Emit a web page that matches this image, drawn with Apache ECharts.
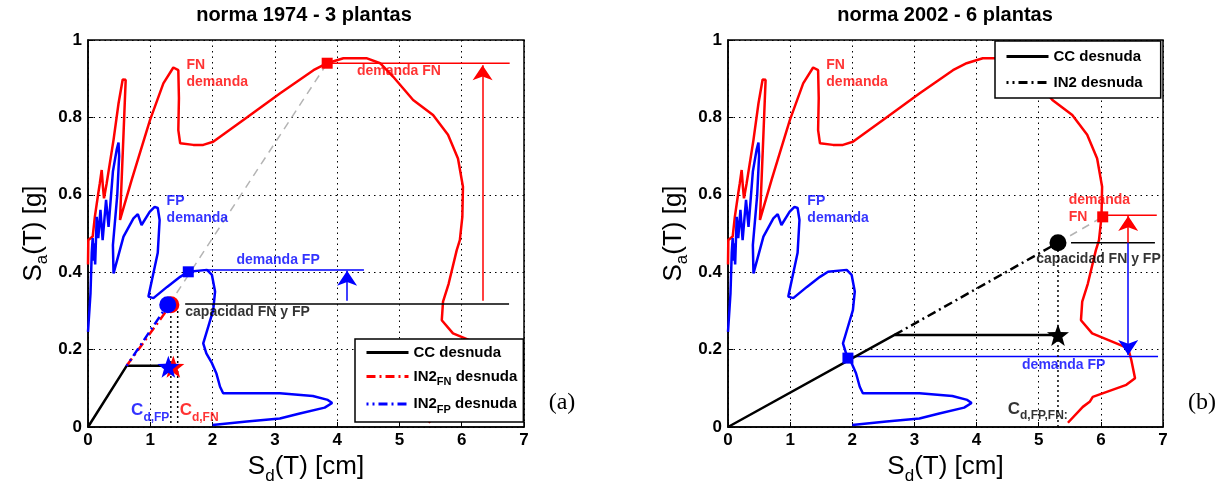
<!DOCTYPE html>
<html><head><meta charset="utf-8">
<script src="https://cdn.jsdelivr.net/npm/echarts@6/dist/echarts.min.js"></script>
<style>html,body{margin:0;padding:0;background:#fff}#c{width:1225px;height:491px}</style>
</head><body><div id="c"></div><script>
// ---------- data ----------
const xTicks = [0, 1, 2, 3, 4, 5, 6, 7];
const yTicks = [0, 0.2, 0.4, 0.6, 0.8, 1];
const titles = ['norma 1974 - 3 plantas', 'norma 2002 - 6 plantas'];
const panelTags = ['(a)', '(b)'];

// demand spectra (same in both panels)
const fnDemand = [[0,0.42],[0.005,0.483],[0.075,0.492],[0.11,0.543],[0.165,0.604],[0.19,0.63],[0.22,0.664],[0.24,0.62],[0.257,0.591],[0.30,0.63],[0.41,0.742],[0.49,0.836],[0.557,0.898],[0.605,0.897],[0.571,0.76],[0.514,0.535],[0.70,0.638],[0.995,0.793],[1.21,0.888],[1.37,0.929],[1.45,0.922],[1.46,0.85],[1.45,0.767],[1.48,0.733],[1.69,0.729],[1.85,0.729],[2.01,0.737],[2.55,0.80],[3.08,0.862],[3.62,0.922],[3.84,0.94],[4.10,0.953],[4.47,0.953],[4.69,0.94],[4.90,0.905],[5.22,0.845],[5.54,0.806],[5.78,0.755],[5.94,0.694],[6.02,0.621],[6.01,0.543],[5.97,0.483],[5.92,0.457],[5.79,0.37],[5.70,0.324],[5.68,0.276],[5.86,0.242],[6.25,0.216],[6.44,0.203],[6.49,0.173],[6.55,0.126],[6.41,0.109],[5.87,0.078],[5.82,0.065],[5.71,0.052],[5.47,0.011]];
const fpDemand = [[0,0.246],[0.04,0.345],[0.06,0.45],[0.075,0.488],[0.09,0.43],[0.10,0.475],[0.115,0.42],[0.14,0.543],[0.165,0.488],[0.20,0.561],[0.235,0.483],[0.29,0.587],[0.33,0.517],[0.40,0.66],[0.46,0.716],[0.49,0.735],[0.50,0.70],[0.47,0.60],[0.40,0.47],[0.41,0.397],[0.57,0.492],[0.73,0.539],[0.80,0.55],[0.86,0.522],[0.99,0.556],[1.07,0.569],[1.12,0.566],[1.15,0.535],[1.12,0.45],[0.97,0.337],[1.05,0.333],[1.27,0.362],[1.48,0.388],[1.61,0.401],[1.91,0.406],[1.99,0.393],[2.04,0.350],[2.01,0.302],[1.93,0.259],[1.85,0.216],[1.90,0.190],[1.99,0.165],[2.06,0.139],[2.12,0.104],[2.17,0.087],[2.55,0.087],[3.08,0.087],[3.61,0.08],[3.85,0.07],[3.92,0.062],[3.80,0.050],[3.40,0.035],[3.08,0.022],[2.55,0.014],[2.0,0.005]];

// panel (a)
const aCC = [[0,0],[0.62,0.158],[1.34,0.158]];
const aIN2fn = [[0.62,0.158],[1.33,0.316]];
const aIN2fp = [[0.62,0.158],[1.28,0.316]];
const aPeriod = [[1.30,0.316],[3.84,0.94]];
const aCapacity = [[1.56,0.318],[6.76,0.318]];
const aDemFP = [[1.90,0.406],[4.43,0.406]];
const aDemFN = [[3.84,0.94],[6.77,0.94]];
const aArrowFP = [[4.16,0.326],[4.16,0.404]];
const aArrowFN = [[6.335,0.326],[6.335,0.935]];
const aDotFP = [[1.33,0.30],[1.33,0]];
const aDotFN = [[1.44,0.30],[1.44,0]];
const aSquareFN = [3.84,0.94], aSquareFP = [1.61,0.401];
const aCircleFN = [1.33,0.316], aCircleFP = [1.28,0.316];
const aStarFN = [1.37,0.156], aStarFP = [1.29,0.156];

// panel (b)
const bCC = [[0,0],[2.68,0.238],[5.31,0.238]];
const bIN2 = [[2.68,0.238],[5.31,0.476]];
const bPeriod = [[5.31,0.476],[6.03,0.543]];
const bCapacity = [[5.52,0.476],[6.87,0.476]];
const bDemFN = [[6.03,0.547],[6.90,0.547]];
const bDemFP = [[1.93,0.182],[6.92,0.182]];
const bArrowFN = [[6.44,0.476],[6.44,0.545]];
const bArrowFP = [[6.44,0.476],[6.44,0.186]];
const bDot = [[5.31,0.47],[5.31,0]];
const bSquareFN = [6.03,0.543], bSquareFP = [1.93,0.178];
const bCircle = [5.31,0.476], bStar = [5.31,0.238];

// ---------- styling helpers ----------
const FONT = 'Liberation Sans, Arial, sans-serif';
const RED = '#ff0000', BLUE = '#0000ff', BLACK = '#000000', GRAY = '#b4b4b4';
const DASHDOT = [9, 4, 2, 4];
const STAR = 'path://M0,-10 L2.35,-3.24 L9.51,-3.09 L3.8,1.24 L5.88,8.09 L0,4 L-5.88,8.09 L-3.8,1.24 L-9.51,-3.09 L-2.35,-3.24 Z';

function line(g, name, data, color, width, type, z, extra) {
  return Object.assign({
    type: 'line', name: name, xAxisIndex: g, yAxisIndex: g, data: data,
    symbol: 'none', showSymbol: false, silent: true, z: z || 2, animation: false,
    lineStyle: {color: color, width: width, type: type || 'solid'},
    itemStyle: {color: color}
  }, extra || {});
}
function marker(g, pt, color, symbol, size, z) {
  return {type: 'scatter', xAxisIndex: g, yAxisIndex: g, data: [pt], symbol: symbol,
    symbolSize: size, itemStyle: {color: color, opacity: 1}, z: z || 6, silent: true, animation: false};
}
function arrow(g, seg, color) {
  return {type: 'lines', coordinateSystem: 'cartesian2d', xAxisIndex: g, yAxisIndex: g,
    data: [{coords: seg}], symbol: ['none', 'arrow'], symbolSize: [11, 15], z: 4, silent: true, animation: false,
    lineStyle: {color: color, width: 1.5, opacity: 1, curveness: 0}};
}
const rich = (c) => ({
  t: {fontSize: 14, fontWeight: 'bold', color: c, fontFamily: FONT, lineHeight: 17},
  C: {fontSize: 17, fontWeight: 'bold', color: c, fontFamily: FONT},
  s: {fontSize: 12, fontWeight: 'bold', color: c, fontFamily: FONT, padding: [14, 0, 0, 0]}
});
function txt(x, y, fmt, color, align, valign) {
  return {value: [x, y], label: {show: true, formatter: fmt, position: [0, 0], align: align,
    verticalAlign: valign, color: color, rich: rich(color)}};
}
function textSeries(g, items) {
  return {type: 'scatter', xAxisIndex: g, yAxisIndex: g, data: items, symbol: 'circle', symbolSize: 1,
    itemStyle: {color: 'transparent'}, z: 7, silent: true, animation: false};
}

const axisNameRich = {
  m: {fontSize: 26, fontFamily: FONT, color: BLACK},
  d: {fontSize: 17, fontFamily: FONT, color: BLACK, padding: [18, 0, 0, 0]}
};
function xAx(g) {
  return {type: 'value', gridIndex: g, min: xTicks[0], max: xTicks[xTicks.length - 1], interval: 1,
    name: '{m|S}{d|d}{m|(T) [cm]}', nameLocation: 'middle', nameGap: 22,
    nameTextStyle: {rich: axisNameRich},
    axisLine: {show: true, lineStyle: {color: BLACK, width: 1.5}},
    axisTick: {show: true, inside: true, length: 5, lineStyle: {color: BLACK}},
    axisLabel: {fontSize: 17, fontWeight: 'bold', color: BLACK, fontFamily: FONT, margin: 5},
    splitLine: {show: true, lineStyle: {color: BLACK, width: 1, type: [1.5, 4]}}};
}
function yAx(g) {
  return {type: 'value', gridIndex: g, min: yTicks[0], max: yTicks[yTicks.length - 1], interval: 0.2,
    name: '{m|S}{d|a}{m|(T) [g]}', nameLocation: 'middle', nameGap: 37,
    nameTextStyle: {rich: axisNameRich},
    axisLine: {show: true, lineStyle: {color: BLACK, width: 1.5}},
    axisTick: {show: true, inside: true, length: 5, lineStyle: {color: BLACK}},
    axisLabel: {fontSize: 17, fontWeight: 'bold', color: BLACK, fontFamily: FONT, margin: 6},
    splitLine: {show: true, lineStyle: {color: BLACK, width: 1, type: [1.5, 4]}}};
}

const legendRich = {
  t: {fontSize: 15, fontWeight: 'bold', fontFamily: FONT, color: BLACK},
  s: {fontSize: 11, fontWeight: 'bold', fontFamily: FONT, color: BLACK, padding: [11, 0, 0, 0]}
};
function legendFmt(name) {
  if (name === 'IN2_FN desnuda') return '{t|IN2}{s|FN}{t| desnuda}';
  if (name === 'IN2_FP desnuda') return '{t|IN2}{s|FP}{t| desnuda}';
  return '{t|' + name + '}';
}
const legendCommon = {
  orient: 'vertical', itemWidth: 42, itemHeight: 12,
  backgroundColor: '#ffffff', borderColor: BLACK, borderWidth: 1.5, borderRadius: 0,
  formatter: legendFmt, itemStyle: {color: 'transparent', opacity: 0, borderWidth: 0},
  lineStyle: {width: 3},
  textStyle: {rich: legendRich, fontSize: 15, fontWeight: 'bold', color: BLACK, fontFamily: FONT},
  selectedMode: false, z: 20
};

const series = [
  // panel a
  line(0, 'FN demanda', fnDemand, RED, 2.5),
  line(0, 'FP demanda', fpDemand, BLUE, 2.5),
  line(0, 'period a', aPeriod, GRAY, 1.5, [8, 6]),
  line(0, 'cap a', aCapacity, BLACK, 1.5),
  line(0, 'demFP a', aDemFP, BLUE, 1.5),
  line(0, 'demFN a', aDemFN, RED, 1.5),
  line(0, 'dotFP a', aDotFP, BLACK, 1.5, [2, 3]),
  line(0, 'dotFN a', aDotFN, BLACK, 1.5, [2, 3]),
  line(0, 'CC desnuda', aCC, BLACK, 2.5, 'solid', 3),
  line(0, 'IN2_FN desnuda', aIN2fn, RED, 2.5, DASHDOT, 3),
  line(0, 'IN2_FP desnuda', aIN2fp, BLUE, 2.5, DASHDOT, 3, {}),
  arrow(0, aArrowFP, BLUE),
  arrow(0, aArrowFN, RED),
  marker(0, aSquareFN, RED, 'rect', 11),
  marker(0, aSquareFP, BLUE, 'rect', 11),
  marker(0, aCircleFN, RED, 'circle', 17),
  marker(0, aCircleFP, BLUE, 'circle', 17),
  marker(0, aStarFN, RED, STAR, 22),
  marker(0, aStarFP, BLUE, STAR, 22),
  textSeries(0, [
    txt(1.59, 0.956, '{t|FN}\n{t|demanda}', RED, 'left', 'top'),
    txt(1.27, 0.605, '{t|FP}\n{t|demanda}', BLUE, 'left', 'top'),
    txt(5.00, 0.918, '{t|demanda FN}', RED, 'center', 'middle'),
    txt(3.06, 0.429, '{t|demanda FP}', BLUE, 'center', 'middle'),
    txt(1.57, 0.296, '{t|capacidad FN y FP}', BLACK, 'left', 'middle'),
    txt(0.70, 0.042, '{C|C}{s|d,FP}', BLUE, 'left', 'middle'),
    txt(1.48, 0.042, '{C|C}{s|d,FN}', RED, 'left', 'middle')
  ]),
  // panel b
  line(1, 'FN demanda', fnDemand, RED, 2.5),
  line(1, 'FP demanda', fpDemand, BLUE, 2.5),
  line(1, 'period b', bPeriod, GRAY, 1.5, [8, 6]),
  line(1, 'cap b', bCapacity, BLACK, 1.5),
  line(1, 'demFN b', bDemFN, RED, 1.5),
  line(1, 'demFP b', bDemFP, BLUE, 1.5),
  line(1, 'dot b', bDot, BLACK, 1.5, [2, 3]),
  line(1, 'CC desnuda', bCC, BLACK, 2.5, 'solid', 3),
  line(1, 'IN2 desnuda', bIN2, BLACK, 2.5, DASHDOT, 3),
  arrow(1, bArrowFN, RED),
  arrow(1, bArrowFP, BLUE),
  marker(1, bSquareFN, RED, 'rect', 11),
  marker(1, bSquareFP, BLUE, 'rect', 11),
  marker(1, bCircle, BLACK, 'circle', 17),
  marker(1, bStar, BLACK, STAR, 22),
  textSeries(1, [
    txt(1.59, 0.956, '{t|FN}\n{t|demanda}', RED, 'left', 'top'),
    txt(1.285, 0.605, '{t|FP}\n{t|demanda}', BLUE, 'left', 'top'),
    txt(5.49, 0.607, '{t|demanda}\n{t|FN}', RED, 'left', 'top'),
    txt(5.97, 0.433, '{t|capacidad FN y FP}', BLACK, 'center', 'middle'),
    txt(5.41, 0.158, '{t|demanda FP}', BLUE, 'center', 'middle'),
    txt(4.51, 0.045, '{C|C}{s|d,FP,FN:}', BLACK, 'left', 'middle')
  ])
];
// interleave dash of red/blue IN2 in panel a
series[10].lineStyle.dashOffset = 7;

const option = {
  backgroundColor: '#ffffff',
  animation: false,
  grid: [
    {left: 88, top: 40, width: 436, height: 387, show: true, borderColor: BLACK, borderWidth: 1.5, backgroundColor: 'transparent'},
    {left: 728, top: 40, width: 435, height: 387, show: true, borderColor: BLACK, borderWidth: 1.5, backgroundColor: 'transparent'}
  ],
  xAxis: [xAx(0), xAx(1)],
  yAxis: [yAx(0), yAx(1)],
  legend: [
    Object.assign({}, legendCommon, {data: ['CC desnuda', 'IN2_FN desnuda', 'IN2_FP desnuda'],
      left: 355, top: 339, itemGap: 9, padding: [6, 6, 7, 10]}),
    Object.assign({}, legendCommon, {data: ['CC desnuda', 'IN2 desnuda'],
      left: 995, top: 41, itemGap: 11, padding: [8, 18, 8, 10]})
  ],
  graphic: [
    {type: 'text', x: 304, y: 15, style: {text: titles[0], fill: BLACK, fontSize: 20, fontWeight: 'bold', fontFamily: FONT, align: 'center', verticalAlign: 'middle'}},
    {type: 'text', x: 945, y: 15, style: {text: titles[1], fill: BLACK, fontSize: 20, fontWeight: 'bold', fontFamily: FONT, align: 'center', verticalAlign: 'middle'}},
    {type: 'text', x: 562, y: 403, style: {text: panelTags[0], fill: BLACK, fontSize: 24, fontFamily: 'Liberation Serif, serif', align: 'center', verticalAlign: 'middle'}},
    {type: 'text', x: 1202, y: 403, style: {text: panelTags[1], fill: BLACK, fontSize: 24, fontFamily: 'Liberation Serif, serif', align: 'center', verticalAlign: 'middle'}}
  ],
  series: series
};
const chart = echarts.init(document.getElementById('c'), null, {renderer: 'canvas'});
chart.setOption(option);
</script></body></html>
